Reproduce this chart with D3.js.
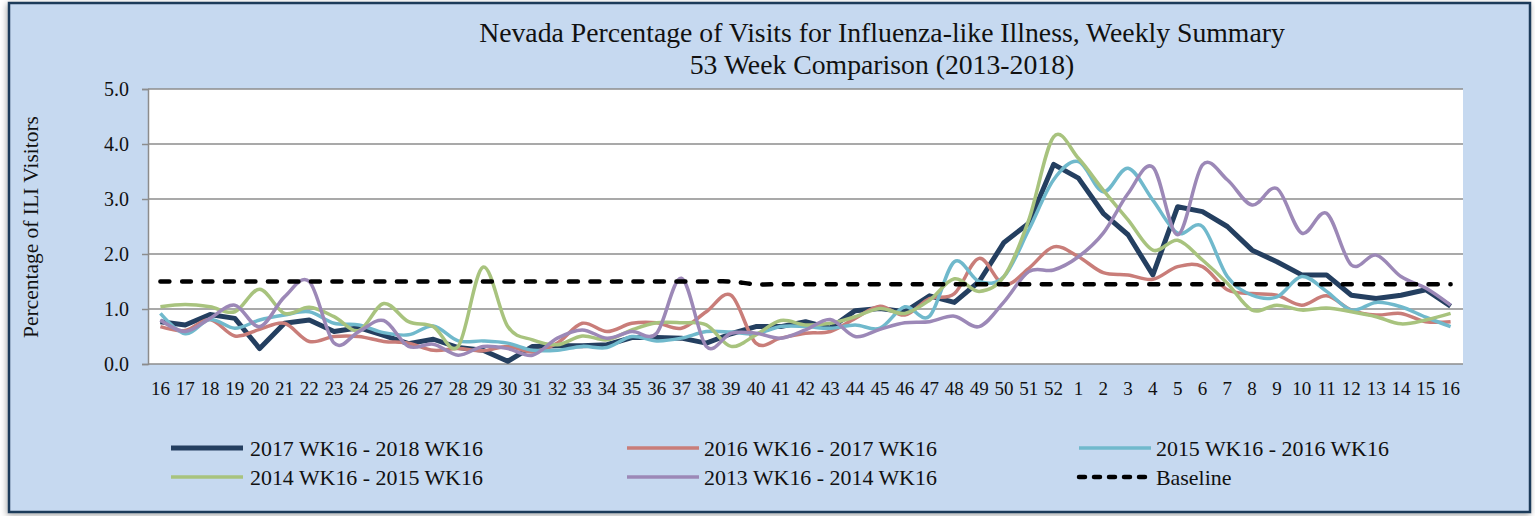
<!DOCTYPE html>
<html>
<head>
<meta charset="utf-8">
<script src="https://cdn.jsdelivr.net/npm/d3@7"></script>
<style>
  html, body { margin: 0; padding: 0; background: #ffffff; }
  svg { display: block; }
  text { font-family: "Liberation Serif", "Times New Roman", serif; fill: #111; }
</style>
</head>
<body>
<svg id="chart" width="1535" height="516"></svg>
<script>
// ---------------- DATA ----------------
const weeks = ["16","17","18","19","20","21","22","23","24","25","26","27","28","29","30","31","32","33","34","35","36","37","38","39","40","41","42","43","44","45","46","47","48","49","50","51","52","1","2","3","4","5","6","7","8","9","10","11","12","13","14","15","16"];

const s2017 = [0.77,0.71,0.90,0.83,0.28,0.74,0.80,0.59,0.66,0.52,0.37,0.45,0.30,0.25,0.05,0.32,0.33,0.33,0.35,0.48,0.48,0.47,0.38,0.55,0.68,0.68,0.77,0.65,0.97,1.01,0.95,1.24,1.12,1.50,2.21,2.56,3.63,3.38,2.74,2.35,1.62,2.86,2.77,2.50,2.07,1.86,1.62,1.62,1.25,1.19,1.25,1.35,1.05];
const s2016 = [0.68,0.61,0.81,0.51,0.63,0.74,0.41,0.50,0.50,0.41,0.38,0.25,0.28,0.24,0.32,0.22,0.38,0.74,0.59,0.74,0.75,0.65,0.95,1.25,0.38,0.47,0.56,0.59,0.83,1.05,0.89,1.19,1.28,1.92,1.44,1.74,2.13,1.95,1.66,1.62,1.54,1.77,1.77,1.35,1.28,1.25,1.07,1.24,0.98,0.89,0.92,0.77,0.77];
const s2015 = [0.92,0.55,0.81,0.65,0.80,0.89,0.95,0.74,0.71,0.57,0.53,0.69,0.42,0.42,0.38,0.25,0.25,0.32,0.30,0.50,0.42,0.47,0.59,0.58,0.55,0.68,0.68,0.65,0.71,0.65,1.04,0.87,1.86,1.50,1.59,2.44,3.35,3.68,3.13,3.56,2.98,2.38,2.50,1.59,1.25,1.22,1.59,1.32,0.98,1.12,1.04,0.85,0.68];
const s2014 = [1.04,1.08,1.04,0.95,1.36,0.92,1.03,0.86,0.61,1.10,0.77,0.68,0.32,1.76,0.68,0.44,0.35,0.51,0.44,0.62,0.75,0.75,0.71,0.32,0.53,0.79,0.71,0.74,0.86,1.01,0.92,1.16,1.55,1.32,1.59,2.62,4.13,3.74,3.16,2.62,2.07,2.25,1.89,1.47,0.98,1.07,0.98,1.02,0.95,0.86,0.73,0.80,0.92];
const s2013 = [0.80,0.59,0.83,1.07,0.68,1.22,1.50,0.38,0.59,0.79,0.32,0.36,0.16,0.32,0.28,0.16,0.47,0.62,0.47,0.59,0.56,1.56,0.32,0.56,0.56,0.47,0.62,0.81,0.50,0.63,0.75,0.77,0.87,0.68,1.13,1.68,1.71,1.95,2.38,3.10,3.58,2.35,3.62,3.35,2.89,3.19,2.38,2.74,1.80,1.98,1.59,1.38,1.07];
const baseline = [1.5,1.5,1.5,1.5,1.5,1.5,1.5,1.5,1.5,1.5,1.5,1.5,1.5,1.5,1.5,1.5,1.5,1.5,1.5,1.5,1.5,1.5,1.5,1.5,1.45,1.45,1.45,1.45,1.45,1.45,1.45,1.45,1.45,1.45,1.45,1.45,1.45,1.45,1.45,1.45,1.45,1.45,1.45,1.45,1.45,1.45,1.45,1.45,1.45,1.45,1.45,1.45,1.45];

const yTicks = [0,1,2,3,4,5];
const seriesNames = ["2017 WK16 - 2018 WK16","2016 WK16 - 2017 WK16","2015 WK16 - 2016 WK16","2014 WK16 - 2015 WK16","2013 WK16 - 2014 WK16","Baseline"];
const titleLines = ["Nevada Percentage of Visits for Influenza-like Illness, Weekly Summary","53 Week Comparison (2013-2018)"];
const yTitle = "Percentage of ILI Visitors";

// ---------------- STYLES ----------------
const series = [
  {name: seriesNames[0], values: s2017, color: "#243f60", width: 5,   curve: d3.curveLinear},
  {name: seriesNames[1], values: s2016, color: "#c97d79", width: 3.5, curve: d3.curveCatmullRom.alpha(0)},
  {name: seriesNames[2], values: s2015, color: "#70b9cc", width: 3.5, curve: d3.curveCatmullRom.alpha(0)},
  {name: seriesNames[3], values: s2014, color: "#a8c37e", width: 3.5, curve: d3.curveCatmullRom.alpha(0)},
  {name: seriesNames[4], values: s2013, color: "#9c88b7", width: 3.5, curve: d3.curveCatmullRom.alpha(0)},
  {name: seriesNames[5], values: baseline, color: "#000000", width: 4.5, curve: d3.curveCatmullRom.alpha(0), dash: "9,12.5"}
];

const svg = d3.select("#chart");
const W = 1535, H = 516;
const plot = {left: 148, right: 1463, top: 89, bottom: 364};

// frame with shadow
const defs = svg.append("defs");
const f = defs.append("filter").attr("id","sh").attr("x","-5%").attr("y","-5%").attr("width","110%").attr("height","110%");
f.append("feDropShadow").attr("dx",-1).attr("dy",2).attr("stdDeviation",3).attr("flood-color","#000").attr("flood-opacity",0.35);

svg.append("rect").attr("x",9).attr("y",3).attr("width",1521).attr("height",509)
  .attr("fill","#c6d9f0").attr("stroke","#1f3a5a").attr("stroke-width",2.5)
  .attr("filter","url(#sh)");

// plot background
svg.append("rect").attr("x",plot.left).attr("y",plot.top)
  .attr("width",plot.right-plot.left).attr("height",plot.bottom-plot.top).attr("fill","#ffffff");

// scales
const x = d3.scaleBand().domain(d3.range(weeks.length)).range([plot.left, plot.right]).padding(0);
const cx = i => x(i) + x.bandwidth()/2;
const y = d3.scaleLinear().domain([0,5]).range([plot.bottom, plot.top]);

// gridlines
svg.append("g").selectAll("line").data(yTicks).join("line")
  .attr("x1",plot.left).attr("x2",plot.right)
  .attr("y1",d=>y(d)).attr("y2",d=>y(d))
  .attr("stroke","#8c8c8c").attr("stroke-width",1.5);

// y axis
const yAxis = svg.append("g").attr("transform",`translate(${plot.left},0)`)
  .call(d3.axisLeft(y).tickValues(yTicks).tickFormat(d3.format(".1f")).tickSize(6).tickPadding(13));
yAxis.select(".domain").attr("stroke","#8c8c8c").attr("stroke-width",1.5);
yAxis.selectAll(".tick line").attr("stroke","#8c8c8c").attr("stroke-width",1.5);
yAxis.selectAll(".tick text").attr("font-family","Liberation Serif").attr("font-size",20).attr("fill","#111");

// x axis labels
const xAxis = svg.append("g").attr("transform",`translate(0,${plot.bottom})`)
  .call(d3.axisBottom(x).tickFormat(i=>weeks[i]).tickSize(0).tickPadding(18));
xAxis.select(".domain").remove();
xAxis.selectAll(".tick text").attr("font-family","Liberation Serif").attr("font-size",19).attr("fill","#111");

// lines
const gLines = svg.append("g");
series.forEach(s => {
  const line = d3.line().x((d,i)=>cx(i)).y(d=>y(d)).curve(s.curve);
  gLines.append("path").datum(s.values)
    .attr("d",line).attr("fill","none")
    .attr("stroke",s.color).attr("stroke-width",s.width)
    .attr("stroke-linejoin","round")
    .attr("stroke-linecap", s.dash ? "round" : "butt")
    .attr("stroke-dasharray", s.dash || null);
});

// fitting helper
function fit(sel, target, base){
  sel.attr("font-size", base);
  const w = sel.node().getComputedTextLength();
  sel.attr("font-size", base*target/w);
}

// title
const t1 = svg.append("text").attr("x",882).attr("y",42).attr("text-anchor","middle").text(titleLines[0]);
fit(t1, 806, 25);
const t2 = svg.append("text").attr("x",882).attr("y",74).attr("text-anchor","middle").text(titleLines[1]);
t2.attr("font-size", t1.attr("font-size"));

// y title
const yt = svg.append("text").attr("transform","translate(38,227) rotate(-90)").attr("text-anchor","middle").text(yTitle);
fit(yt, 222, 19);

// legend
const legPos = [
  {lx:171, tx:250, y:448},{lx:627, tx:704, y:448},{lx:1079, tx:1156, y:448},
  {lx:171, tx:250, y:477},{lx:627, tx:704, y:477},{lx:1079, tx:1156, y:477}
];
const leg = svg.append("g");
let legSize = null;
series.forEach((s,k) => {
  const p = legPos[k];
  leg.append("line").attr("x1",p.lx).attr("x2",p.lx+72).attr("y1",p.y).attr("y2",p.y)
    .attr("stroke",s.color).attr("stroke-width",s.width)
    .attr("stroke-linecap", s.dash ? "round" : "butt")
    .attr("stroke-dasharray", s.dash ? "6,9" : null);
  const t = leg.append("text").attr("x",p.tx).attr("y",p.y+8).text(s.name);
  if (k===0){ fit(t, 233, 21); legSize = t.attr("font-size"); }
  else t.attr("font-size", legSize);
});
</script>
</body>
</html>
